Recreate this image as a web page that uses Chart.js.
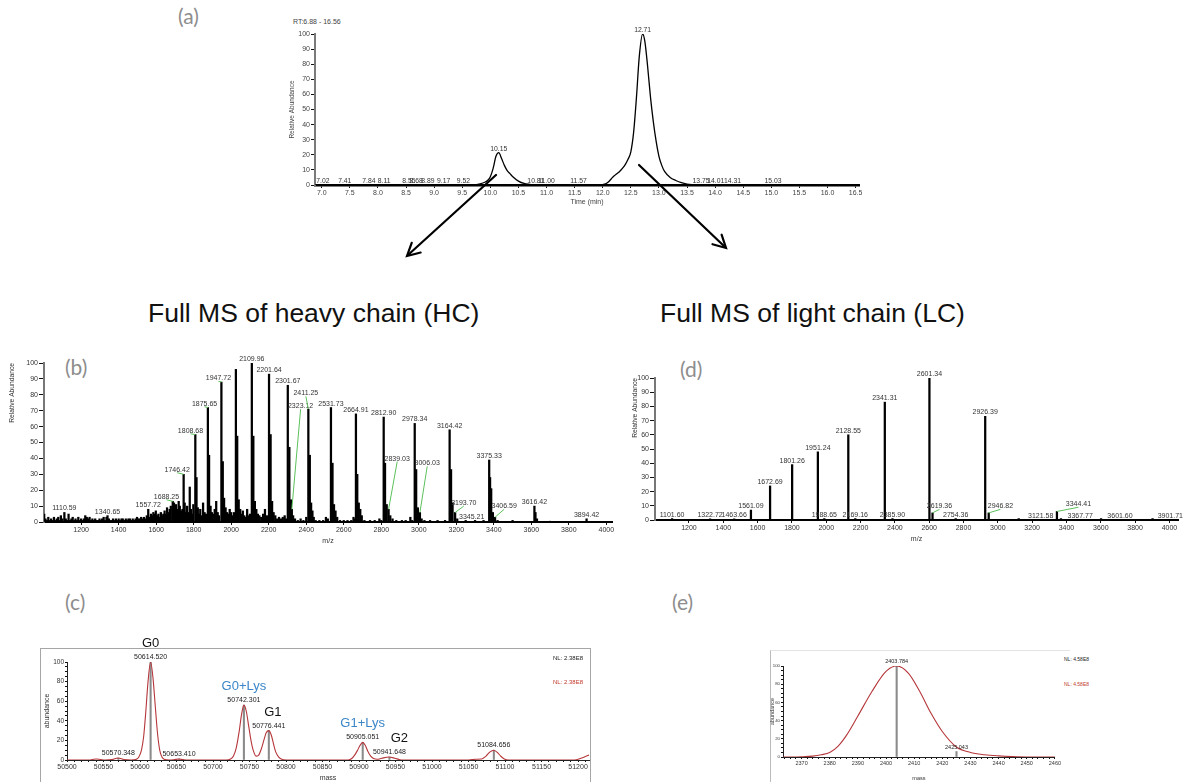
<!DOCTYPE html>
<html>
<head>
<meta charset="utf-8">
<title>LC-MS of antibody chains</title>
<script src="https://cdn.jsdelivr.net/npm/chart.js@4.4.1/dist/chart.umd.min.js"></script>
<style>
html, body { margin: 0; padding: 0; background: #fff; }
body { position: relative; width: 1183px; height: 782px; overflow: hidden; font-family: 'Liberation Sans', Arial, sans-serif; }
canvas, .tag, .head, .note, .frame, svg { position: absolute; }
.tag { font-family: Lato, 'Open Sans', sans-serif; font-size: 21px; color: #8d8d8d; line-height: 1; }
.head { font-size: 26.5px; color: #111; line-height: 1; white-space: nowrap; }
.note { font-size: 6px; color: #222; white-space: nowrap; line-height: 1; }
.frame { box-sizing: border-box; }
</style>
</head>
<body>
<div class="tag" style="left:178px; top:5px;">(a)</div>
<div class="note" style="left:293px; top:18px; font-size:7px; color:#444;">RT:6.88 - 16.56</div>
<div class="head" style="left:148px; top:300px;">Full MS of heavy chain (HC)</div>
<div class="head" style="left:660px; top:300px;">Full MS of light chain (LC)</div>
<div class="tag" style="left:65px; top:356px;">(b)</div>
<div class="tag" style="left:680px; top:358px;">(d)</div>
<div class="tag" style="left:65px; top:591px;">(c)</div>
<div class="tag" style="left:672px; top:591px;">(e)</div>

<canvas id="rt" width="585" height="184" style="left:285px; top:25px;"></canvas>
<canvas id="hc" width="620" height="208" style="left:0px; top:340px;"></canvas>
<canvas id="lc" width="563" height="196" style="left:620px; top:350px;"></canvas>
<div class="frame" style="left:40px; top:648px; width:551px; height:140px; border:1px solid #a6a6a6;"></div>
<canvas id="dc" width="551" height="154" style="left:40px; top:628px;"></canvas>
<div class="frame" style="left:770px; top:650px; width:300px; height:140px; border-left:1px solid #bbb; border-top:1px solid #e4e4e4;"></div>
<canvas id="dl" width="292" height="137" style="left:770px; top:645px;"></canvas>

<div class="note" style="left:553px; top:655px;">NL: 2.38E8</div>
<div class="note" style="left:553px; top:679px; color:#c0392b;">NL: 2.38E8</div>
<div class="note" style="left:1064px; top:657px; font-size:5px;">NL: 4.58E8</div>
<div class="note" style="left:1064px; top:682px; font-size:5px; color:#c0392b;">NL: 4.58E8</div>

<svg width="1183" height="782" style="left:0; top:0;">
  <g stroke="#000" stroke-width="2.2" fill="none" stroke-linecap="round" stroke-linejoin="miter">
    <line x1="496" y1="175" x2="408" y2="255"/>
    <polyline points="420.6,252.5 407,256 411.7,242.8"/>
    <line x1="639" y1="165" x2="725" y2="247"/>
    <polyline points="721.6,234.7 726,248 712.5,244.2"/>
  </g>
</svg>

<script>
// (a) total ion chromatogram: [time, relative abundance]
const rtTrace = [
    [6.88, 0], [9.70, 0.2], [9.80, 0.6], [9.90, 1.8], [9.95, 3], [10.00, 5.5], [10.05, 11], [10.10, 19],
    [10.15, 21.5], [10.20, 17.5], [10.25, 13], [10.30, 9.5], [10.35, 7.5], [10.40, 5.5], [10.50, 2.6],
    [10.60, 1], [10.70, 0.4], [10.80, 0], [11.95, 0], [12.00, 0.3], [12.05, 0.8], [12.10, 2], [12.15, 4],
    [12.20, 6], [12.25, 7.5], [12.30, 9], [12.35, 11], [12.40, 13.5], [12.45, 17], [12.50, 22], [12.55, 35],
    [12.60, 58], [12.65, 85], [12.71, 100], [12.75, 95], [12.80, 78], [12.85, 58], [12.90, 42], [12.95, 29],
    [13.00, 19], [13.05, 13], [13.10, 9], [13.20, 5], [13.30, 3], [13.40, 1.5], [13.50, 0.6], [13.60, 0.2],
    [13.70, 0], [16.56, 0]
];
const rtPeakLabels = [10.15, 12.71];
const rtBaseLabels = [7.02, 7.41, 7.84, 8.11, 8.55, 8.68, 8.89, 9.17, 9.52, 10.81, 11.00, 11.57, 13.75, 14.01, 14.31, 15.03];

// m/z tick marks shared by (b) and (d)
const msTicks = [1200, 1400, 1600, 1800, 2000, 2200, 2400, 2600, 2800, 3000, 3200, 3400, 3600, 3800, 4000];

// (b) heavy chain full MS: [m/z, relative abundance]
const hcSpectrum = [
    [1003,5],[1010,2],[1018,1],[1025,3],[1032,1],[1040,2],[1048,1],[1055,3],[1062,1],[1070,2],[1078,3],[1085,1],
    [1092,4],[1100,2],[1110.59,6],[1118,2],[1125,1],[1133,5],[1140,1],[1148,2],[1155,3],[1163,1],[1170,2],[1178,1],
    [1185,3],[1192,1],[1200,2],[1208,1],[1215,2],[1222,4],[1230,3],[1237,2],[1245,3],[1252,1],[1260,2],[1268,1],
    [1275,2],[1283,1],[1290,1],[1298,2],[1305,1],[1312,2],[1320,3],[1328,1],[1335,3],[1340.65,4],[1348,2],[1355,1],
    [1362,1],[1370,2],[1378,1],[1385,2],[1392,1],[1400,2],[1408,1],[1415,2],[1422,2],[1430,1],[1438,2],[1445,1],
    [1452,2],[1460,2],[1468,1],[1475,2],[1482,1],[1490,2],[1498,3],[1505,2],[1512,2],[1520,3],[1528,2],[1535,3],
    [1542,2],[1550,4],[1557.72,8],[1565,3],[1572,5],[1578,4],[1585,6],[1592,5],[1598,7],[1605,4],[1612,5],[1618,3],
    [1625,6],[1632,4],[1638,5],[1645,7],[1652,5],[1658,9],[1665,6],[1672,8],[1678,10],[1688.25,13],[1695,12],[1700,9],
    [1706,11],[1712,8],[1720,13],[1726,10],[1733,7],[1740,8],[1746.42,30],[1752,12],[1758,6],[1765,10],[1772,6],[1779,22],
    [1785,8],[1792,5],[1798,11],[1808.68,55],[1815,28],[1822,9],[1828,5],[1835,8],[1842,4],[1850,12],[1858,6],[1865,5],
    [1875.65,72],[1882,42],[1890,10],[1897,6],[1905,5],[1912,8],[1920,13],[1928,6],[1935,4],[1947.72,88],[1955,38],[1962,15],
    [1970,9],[1978,6],[1985,5],[1992,8],[2000,6],[2008,4],[2015,6],[2025,96],[2032,54],[2040,14],[2048,8],[2055,5],
    [2062,7],[2070,4],[2078,3],[2085,8],[2092,4],[2100,5],[2109.96,100],[2118,54],[2126,13],[2134,8],[2142,5],[2150,4],
    [2160,3],[2170,5],[2180,8],[2190,4],[2201.64,93],[2210,55],[2218,13],[2226,6],[2235,4],[2245,2],[2255,3],[2265,2],
    [2275,3],[2285,4],[2292,2],[2301.67,86],[2310,47],[2318,14],[2323.12,8],[2330,4],[2340,2],[2355,1],[2370,2],[2385,1],
    [2400,3],[2411.25,71],[2419,42],[2426,12],[2433,7],[2440,3],[2450,1],[2470,1],[2490,1],[2505,3],[2515,2],[2531.73,72],
    [2540,37],[2548,11],[2556,7],[2565,3],[2580,1],[2600,1],[2620,1],[2640,1],[2652,3],[2658,2],[2664.91,68],[2672,30],
    [2680,12],[2688,8],[2696,4],[2710,1],[2740,1],[2765,1],[2790,2],[2800,1],[2812.90,66],[2820,37],[2829,11],[2839.03,8],
    [2848,4],[2860,2],[2880,1],[2910,1],[2930,1],[2955,3],[2965,1],[2978.34,62],[2986,33],[2995,9],[3006.03,6],[3015,2],
    [3030,1],[3060,1],[3100,1],[3140,1],[3164.42,58],[3172,33],[3180,12],[3193.70,6],[3205,2],[3250,1],[3300,1],[3345.21,1],
    [3375.33,39],[3380,28],[3386,21],[3395,6],[3406.59,3],[3420,1],[3500,1],[3616.42,10],[3622,6],[3630,2],[3700,0.5],[3894.42,2]
];
const hcLabelMz = [1110.59, 1340.65, 1557.72, 1688.25, 1746.42, 1808.68, 1875.65, 1947.72, 2109.96, 2201.64, 2301.67,
    2323.12, 2411.25, 2531.73, 2664.91, 2812.90, 2839.03, 2978.34, 3006.03, 3164.42, 3193.70, 3345.21, 3375.33,
    3406.59, 3616.42, 3894.42];
// labels moved off their peak: [peak m/z, label m/z, label height, draw leader]
const hcLeaders = [
    [1688.25, 1655, 14], [1746.42, 1712, 31], [1808.68, 1783, 55.5], [1875.65, 1858, 72.5], [1947.72, 1932, 88.5],
    [2323.12, 2370, 71], [2411.25, 2398, 79], [2839.03, 2885, 38], [3006.03, 3045, 35], [3193.70, 3240, 10],
    [3406.59, 3455, 8], [3345.21, 3282, 1.5, false]
];

// (d) light chain full MS
const lcSpectrum = [
    [1101.60, 1], [1322.72, 0.8], [1463.66, 0.8], [1561.09, 7], [1672.69, 24], [1801.26, 39], [1951.24, 48],
    [1988.65, 1], [2128.55, 60], [2169.16, 1], [2341.31, 83], [2385.90, 1], [2601.34, 100], [2619.36, 5],
    [2754.36, 1], [2926.39, 73], [2946.82, 5], [3121.58, 1], [3344.41, 6], [3367.77, 1], [3601.60, 1], [3901.71, 1]
];
const lcLeaders = [
    [2619.36, 2660, 7.5], [2946.82, 3015, 7.5], [3121.58, 3250, 1, false], [3344.41, 3470, 9],
    [3367.77, 3480, 1, false], [3601.60, 3712, 1, false], [3901.71, 4005, 1, false]
];

// (c) deconvoluted heavy chain: profile and centroids
const dcProfile = [
    [50500,0],[50530,0],[50535,0.5],[50540,1],[50546,0.5],[50552,0],[50562,0.5],[50570,2],[50578,0.5],[50588,0],
    [50594,0.5],[50598,2.5],[50602,10],[50605,24],[50608,50],[50611,80],[50614.5,100],[50618,82],[50621,54],[50624,27],
    [50627,10],[50630,3],[50634,0.5],[50640,0],[50647,0.4],[50653,1],[50659,0.4],[50665,0],[50718,0],[50724,1],
    [50728,4],[50732,13],[50736,30],[50739,46],[50742.3,56],[50745.5,50],[50749,34],[50752,20],[50755,10],[50759,4],
    [50762,4.5],[50766,11],[50770,21],[50773,28],[50776.4,30],[50780,25],[50783,16],[50786,8],[50790,3],[50795,0.5],
    [50800,0],[50885,0],[50890,1.5],[50894,5],[50898,10],[50901.5,15],[50905,18],[50908.5,15],[50912,9],[50916,4],
    [50920,1.5],[50925,0.8],[50931,1.8],[50941,3],[50949,1.8],[50956,0.3],[50962,0],[51050,0],[51060,0.8],[51068,1],
    [51074,4],[51079,8],[51084.6,10],[51089,8],[51094,4],[51099,1],[51105,0],[51195,0],[51203,1.5],[51210,3.5],[51215,5]
];
const dcSticks = [
    [50570.348, 2], [50614.520, 100], [50653.410, 1], [50742.301, 56], [50776.441, 30],
    [50905.051, 18], [50941.648, 3], [51084.656, 10]
];
const dcNames = [
    ['G0', 50614.520, '#111', 0], ['G0+Lys', 50742.301, '#3b86c8', 0], ['G1', 50776.441, '#111', 4],
    ['G1+Lys', 50905.051, '#3b86c8', 0], ['G2', 50941.648, '#111', 10]
];

// (e) deconvoluted light chain
const dlProfile = [
    [2363.4,0],[2370,0.3],[2374,1],[2377,2.5],[2380,5],[2383,12],[2386,24],[2390,45],[2395,72],[2400,94],
    [2403.784,100],[2408,92],[2412,72],[2416,48],[2420,28],[2425,11],[2430,5],[2435,2.5],[2440,1.2],[2445,0.4],
    [2450,0],[2460,0]
];
const dlSticks = [[2403.784, 100], [2425.043, 6]];

const FONT = "'Liberation Sans', Arial, sans-serif";
Chart.defaults.font.family = FONT;
Chart.defaults.color = '#333';
Chart.defaults.animation = false;

function pts(list) {
    return list.map(function(el) { return {x: el[0], y: el[1]}; });
}
function heightAt(list, x) {
    let p = list.find(function(el) { return el[0] === x; });
    return p ? p[1] : 0;
}
function tickGrid(len) {
    return { drawOnChartArea: false, drawTicks: true, tickLength: len, color: '#111', lineWidth: 1 };
}

// text labels placed in data units, with optional green leader lines
function textPlugin(items, font, color) {
    return {
        id: 'peakText',
        afterDatasetsDraw: function(chart) {
            const ctx = chart.ctx, xs = chart.scales.x, ys = chart.scales.y;
            ctx.save();
            ctx.textAlign = 'center';
            ctx.textBaseline = 'alphabetic';
            items.forEach(function(it) {
                const px = xs.getPixelForValue(it.x), py = ys.getPixelForValue(it.y);
                let tx = px, ty = py;
                if (it.lx !== undefined) {
                    tx = xs.getPixelForValue(it.lx);
                    ty = ys.getPixelForValue(it.ly);
                    if (it.line) {
                        ctx.strokeStyle = '#5cc15c';
                        ctx.lineWidth = 1;
                        ctx.beginPath();
                        ctx.moveTo(px, py);
                        ctx.lineTo(tx, ty);
                        ctx.stroke();
                    }
                }
                ctx.font = it.font || font;
                ctx.fillStyle = it.color || color;
                ctx.fillText(it.t, tx + (it.dx || 0), ty - (it.rise === undefined ? 2 : it.rise));
            });
            ctx.restore();
        }
    };
}

function spectrumLabels(list, labelMz, leaders) {
    return labelMz.map(function(m) {
        const h = heightAt(list, m);
        const lead = leaders.find(function(l) { return l[0] === m; });
        if (lead) {
            return { x: m, y: h, lx: lead[1], ly: lead[2], line: lead[3] !== false, t: m.toFixed(2), rise: 1 };
        }
        return { x: m, y: h, t: m.toFixed(2) };
    });
}

// ---------- (a) chromatogram ----------
let rtItems = rtPeakLabels.map(function(t) {
    return { x: t, y: heightAt(rtTrace, t), t: t.toFixed(2) };
}).concat(rtBaseLabels.map(function(t) {
    return { x: t, y: 0, t: t.toFixed(2), rise: 2.5 };
}));

new Chart(document.getElementById('rt'), {
    type: 'line',
    data: {
        datasets: [{
            data: pts(rtTrace),
            borderColor: '#000',
            borderWidth: 1.3,
            pointRadius: 0,
            cubicInterpolationMode: 'monotone',
            fill: false,
        }],
    },
    options: {
        responsive: false,
        devicePixelRatio: 1,
        layout: { padding: { top: 9, right: 11, left: 0, bottom: 0 } },
        plugins: { legend: { display: false }, tooltip: { enabled: false } },
        scales: {
            x: {
                type: 'linear', min: 6.88, max: 16.56, offset: false,
                afterFit: function(s) { s.height = 24; },
                border: { color: '#000', width: 2.5 },
                grid: tickGrid(3),
                ticks: { stepSize: 0.5, includeBounds: false, autoSkip: false, maxRotation: 0, padding: 1,
                    color: '#444', font: { size: 7 }, callback: function(v) { return v.toFixed(1); } },
                title: { display: true, text: 'Time (min)', color: '#444', font: { size: 7 }, padding: { top: 0, bottom: 3 } },
            },
            y: {
                type: 'linear', min: 0, max: 100,
                afterFit: function(s) { s.width = 30; },
                border: { color: '#7a7a7a', width: 2 },
                grid: tickGrid(4),
                ticks: { stepSize: 10, padding: 1, color: '#444', font: { size: 7 } },
                title: { display: true, text: 'Relative Abundance', color: '#444', font: { size: 6.5 }, padding: { top: 3, bottom: 0 } },
            },
        },
    },
    plugins: [textPlugin(rtItems, "6.8px " + FONT, '#333')],
});

// ---------- (b) and (d) stick spectra ----------
function stickChart(id, list, items, xmax, yWidth, pad, titlePad) {
    return new Chart(document.getElementById(id), {
        type: 'bar',
        data: {
            datasets: [{
                data: pts(list),
                backgroundColor: '#000',
                barThickness: 1.6,
                grouped: false,
            }],
        },
        options: {
            responsive: false,
            devicePixelRatio: 1,
            layout: { padding: pad },
            plugins: { legend: { display: false }, tooltip: { enabled: false } },
            scales: {
                x: {
                    type: 'linear', min: 1002, max: xmax, offset: false,
                    afterBuildTicks: function(s) { s.ticks = msTicks.map(function(v) { return { value: v }; }); },
                    afterFit: function(s) { s.height = 26; },
                    border: { color: '#000', width: 2 },
                    grid: Object.assign(tickGrid(3), { offset: false }),
                    ticks: { autoSkip: false, maxRotation: 0, padding: 1,
                        color: '#333', font: { size: 7 }, callback: function(v) { return String(v); } },
                    title: { display: true, text: 'm/z', color: '#333', font: { size: 7 }, padding: { top: 0, bottom: 3 } },
                },
                y: {
                    type: 'linear', min: 0, max: 100,
                    afterFit: function(s) { s.width = yWidth; },
                    border: { color: '#777', width: 2 },
                    grid: tickGrid(5),
                    ticks: { stepSize: 10, padding: 1, color: '#333', font: { size: 7 } },
                    title: { display: true, text: 'Relative Abundance', align: 'end', color: '#333', font: { size: 6.7 },
                        padding: { top: titlePad, bottom: 0 } },
                },
            },
        },
        plugins: [textPlugin(items, "7px " + FONT, '#333')],
    });
}

stickChart('hc', hcSpectrum, spectrumLabels(hcSpectrum, hcLabelMz, hcLeaders), 4030, 44,
    { top: 23, right: 8, left: 0, bottom: 0 }, 8);
stickChart('lc', lcSpectrum, spectrumLabels(lcSpectrum, lcSpectrum.map(function(el) { return el[0]; }), lcLeaders), 4050, 35,
    { top: 28, right: 5, left: 0, bottom: 0 }, 11);

// ---------- (c) and (e) deconvoluted spectra ----------
function deconChart(id, profile, sticks, items, cfg) {
    return new Chart(document.getElementById(id), {
        type: 'line',
        data: {
            datasets: [{
                data: pts(profile),
                borderColor: '#b5363a',
                borderWidth: 1.1,
                pointRadius: 0,
                cubicInterpolationMode: 'monotone',
                fill: false,
                order: 0,
            }, {
                type: 'bar',
                data: pts(sticks),
                backgroundColor: '#8a8a8a',
                barThickness: 1.4,
                grouped: false,
                order: 1,
            }],
        },
        options: {
            responsive: false,
            devicePixelRatio: 1,
            layout: { padding: cfg.pad },
            plugins: { legend: { display: false }, tooltip: { enabled: false } },
            scales: {
                x: {
                    type: 'linear', min: cfg.xmin, max: cfg.xmax, offset: false,
                    afterFit: function(s) { s.height = cfg.xh; },
                    border: { color: '#222', width: 1 },
                    grid: Object.assign(tickGrid(2), { offset: false }),
                    ticks: { stepSize: cfg.xstep, includeBounds: false, autoSkip: false, maxRotation: 0, minRotation: 0,
                        padding: 1, color: '#333', font: { size: cfg.fs },
                        callback: function(v) { return Math.abs(v % cfg.xlab) < 1e-6 ? String(v) : ''; } },
                    title: { display: true, text: 'mass', color: '#333', font: { size: cfg.fs }, padding: { top: 0, bottom: 0 } },
                },
                y: {
                    type: 'linear', min: 0, max: 100,
                    afterFit: function(s) { s.width = cfg.yw; },
                    border: { color: '#222', width: 1 },
                    grid: tickGrid(2),
                    ticks: { stepSize: 5, autoSkip: false, padding: 1, color: '#333', font: { size: cfg.yfs },
                        callback: function(v) { return v % 20 === 0 ? String(v) : ''; } },
                    title: { display: true, text: 'abundance', color: '#333', font: { size: cfg.fs }, padding: { top: cfg.tp, bottom: 0 } },
                },
            },
        },
        plugins: [textPlugin(items, cfg.fs + "px " + FONT, '#222')],
    });
}

let dcItems = dcSticks.map(function(el) {
    return { x: el[0], y: el[1], t: el[0].toFixed(3), rise: 3 };
}).concat(dcNames.map(function(n) {
    return { x: n[1], y: heightAt(dcSticks, n[1]), t: n[0], color: n[2], dx: n[3], rise: 15, font: "13px " + FONT };
}));
deconChart('dc', dcProfile, dcSticks, dcItems, {
    pad: { top: 34, right: 2, left: 0, bottom: 0 },
    xmin: 50500, xmax: 51215, xstep: 10, xlab: 50, xh: 22, yw: 27, fs: 7, yfs: 6.5, tp: 3,
});

let dlItems = [
    { x: dlSticks[0][0], y: dlSticks[0][1], t: dlSticks[0][0].toFixed(3), rise: 3 },
    { x: dlSticks[1][0], y: dlSticks[1][1], lx: dlSticks[1][0], ly: 8, line: false, t: dlSticks[1][0].toFixed(3), rise: 1 },
];
deconChart('dl', dlProfile, dlSticks, dlItems, {
    pad: { top: 21, right: 2, left: 0, bottom: 0 },
    xmin: 2363.4, xmax: 2460, xstep: 2, xlab: 10, xh: 25, yw: 13, fs: 5.5, yfs: 4.3, tp: -1,
});
</script>
</body>
</html>
